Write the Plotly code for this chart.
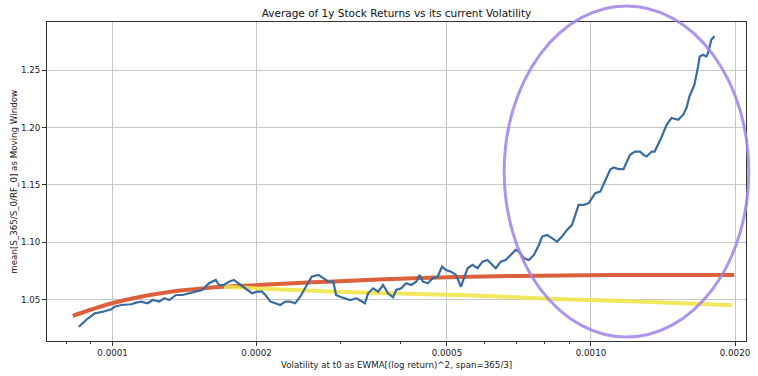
import plotly.graph_objects as go

# ---------------- data ----------------
blue_x = [8.50e-5, 8.68e-5, 8.89e-5, 9.18e-5, 9.55e-5, 9.94e-5, 1.010e-4, 1.043e-4, 1.094e-4, 1.120e-4,
          1.147e-4, 1.184e-4, 1.213e-4, 1.252e-4, 1.283e-4, 1.314e-4, 1.357e-4, 1.400e-4, 1.446e-4, 1.504e-4,
          1.539e-4, 1.591e-4, 1.643e-4, 1.669e-4, 1.709e-4, 1.751e-4, 1.793e-4, 1.852e-4, 1.911e-4, 1.957e-4,
          2.005e-4, 2.053e-4, 2.087e-4, 2.138e-4, 2.189e-4, 2.242e-4, 2.297e-4, 2.352e-4, 2.409e-4, 2.468e-4,
          2.547e-4, 2.608e-4, 2.694e-4, 2.759e-4, 2.826e-4, 2.894e-4, 2.932e-4, 2.988e-4, 3.061e-4, 3.135e-4,
          3.235e-4, 3.314e-4, 3.368e-4, 3.422e-4, 3.505e-4, 3.590e-4, 3.676e-4, 3.765e-4, 3.857e-4, 3.918e-4,
          4.013e-4, 4.110e-4, 4.210e-4, 4.312e-4, 4.382e-4, 4.452e-4, 4.560e-4, 4.670e-4, 4.783e-4, 4.883e-4,
          4.977e-4, 5.098e-4, 5.221e-4, 5.348e-4, 5.436e-4, 5.522e-4, 5.656e-4, 5.793e-4, 5.933e-4, 6.077e-4,
          6.224e-4, 6.323e-4, 6.476e-4, 6.633e-4, 6.793e-4, 6.958e-4, 7.072e-4, 7.243e-4, 7.418e-4, 7.598e-4,
          7.782e-4, 7.906e-4, 8.097e-4, 8.293e-4, 8.494e-4, 8.700e-4, 8.910e-4, 9.126e-4, 9.272e-4, 9.424e-4,
          9.652e-4, 9.891e-4, 1.0048e-3, 1.0208e-3, 1.0455e-3, 1.0708e-3, 1.0967e-3, 1.1147e-3, 1.1417e-3, 1.1693e-3,
          1.1879e-3, 1.2069e-3, 1.2361e-3, 1.2660e-3, 1.2868e-3, 1.3073e-3, 1.3390e-3, 1.3584e-3, 1.4027e-3, 1.4388e-3,
          1.4736e-3, 1.5217e-3, 1.5585e-3, 1.5833e-3, 1.6063e-3, 1.6452e-3, 1.6746e-3, 1.6875e-3, 1.7152e-3, 1.7425e-3,
          1.7568e-3, 1.7703e-3, 1.7848e-3, 1.8132e-3]
blue_y = [1.0264, 1.0299, 1.0338, 1.0381, 1.0395, 1.0416, 1.0439, 1.0454, 1.0460, 1.0474,
          1.0483, 1.0469, 1.0497, 1.0483, 1.0512, 1.0497, 1.0541, 1.0541, 1.0556, 1.0570,
          1.0585, 1.0643, 1.0672, 1.0628, 1.0628, 1.0657, 1.0672, 1.0628, 1.0585, 1.0556,
          1.0570, 1.0570, 1.0541, 1.0483, 1.0469, 1.0454, 1.0483, 1.0483, 1.0469, 1.0526,
          1.0628, 1.0701, 1.0716, 1.0689, 1.0657, 1.0657, 1.0541, 1.0526, 1.0512, 1.0497,
          1.0512, 1.0483, 1.0469, 1.0556, 1.0599, 1.0570, 1.0628, 1.0556, 1.0521, 1.0585,
          1.0599, 1.0643, 1.0628, 1.0657, 1.0716, 1.0657, 1.0643, 1.0687, 1.0701, 1.0788,
          1.0759, 1.0744, 1.0716, 1.0613, 1.0701, 1.0774, 1.0803, 1.0774, 1.0832, 1.0846,
          1.0803, 1.0774, 1.0832, 1.0846, 1.0890, 1.0934, 1.0919, 1.0861, 1.0846, 1.0890,
          1.0977, 1.1050, 1.1065, 1.1036, 1.1006, 1.1050, 1.1108, 1.1152, 1.1239, 1.1326,
          1.1326, 1.1341, 1.1385, 1.1428, 1.1442, 1.1545, 1.1632, 1.1652, 1.1638, 1.1638,
          1.1704, 1.1763, 1.1791, 1.1791, 1.1763, 1.1748, 1.1791, 1.1791, 1.1911, 1.2024,
          1.2083, 1.2068, 1.2112, 1.2170, 1.2271, 1.2374, 1.2533, 1.2620, 1.2635, 1.2620,
          1.2650, 1.2708, 1.2766, 1.2795]

red_x = [8.26e-5, 8.96e-5, 1.0014e-4, 1.138e-4, 1.293e-4, 1.481e-4, 1.669e-4, 2.021e-4, 2.447e-4,
         2.826e-4, 3.590e-4, 5.264e-4, 7.014e-4, 8.700e-4, 1.1325e-3, 1.509e-3, 1.993e-3]
red_y = [1.0358, 1.0410, 1.0471, 1.0524, 1.0563, 1.0591, 1.0611, 1.0628, 1.0646,
         1.0657, 1.0676, 1.0698, 1.0707, 1.0711, 1.0716, 1.0716, 1.0716]

yellow_x = [1.709e-4, 2.021e-4, 2.447e-4, 2.826e-4, 3.555e-4, 5.264e-4, 6.719e-4, 8.494e-4,
            1.0847e-3, 1.509e-3, 1.974e-3]
yellow_y = [1.0613, 1.0598, 1.0582, 1.0572, 1.0558, 1.0541, 1.0524, 1.0506,
            1.0493, 1.0471, 1.0451]

x_tick_vals = [0.0001, 0.0002, 0.0005, 0.001, 0.002]
x_tick_text = ["0.0001", "0.0002", "0.0005", "0.0010", "0.0020"]
x_minor_vals = [0.00008, 0.00009, 0.0003, 0.0004, 0.0006, 0.0007, 0.0008, 0.0009]
y_tick_vals = [1.05, 1.10, 1.15, 1.20, 1.25]
y_tick_text = ["1.05", "1.10", "1.15", "1.20", "1.25"]

title_text = "Average of 1y Stock Returns vs its current Volatility"
x_title = "Volatility at t0 as EWMA[(log return)^2, span=365/3]"
y_title = "mean[S_365/S_0/RF_0] as Moving Window"

# ---------------- figure ----------------
FONT = "DejaVu Sans"
SMALL = 8.7
fig = go.Figure()
fig.add_trace(go.Scatter(x=red_x, y=red_y, mode="lines",
                         line=dict(color="rgba(218,82,44,0.92)", width=4, shape="spline"),
                         showlegend=False))
fig.add_trace(go.Scatter(x=yellow_x, y=yellow_y, mode="lines",
                         line=dict(color="rgba(240,228,66,0.85)", width=4, shape="spline"),
                         showlegend=False))
fig.add_trace(go.Scatter(x=blue_x, y=blue_y, mode="lines",
                         line=dict(color="#3a6b9f", width=2.2),
                         showlegend=False))

# hand-drawn style highlight ellipse (paper coords)
fig.add_shape(type="circle", xref="paper", yref="paper",
              x0=0.654, x1=1.004, y0=0.0125, y1=1.050,
              line=dict(color="rgba(160,130,232,0.85)", width=3), layer="above")

fig.update_layout(
    width=758, height=376,
    margin=dict(l=47, r=8, t=22, b=35),
    paper_bgcolor="white", plot_bgcolor="white",
    font=dict(family=FONT, size=SMALL, color="#222"),
    title=dict(text=title_text, x=0.5, xref="paper", y=1 - 13 / 376, yref="container",
               xanchor="center", yanchor="middle", font=dict(size=10.5, color="#111")),
)
fig.update_xaxes(type="log", range=[-4.137, -2.676],
                 tickmode="array", tickvals=x_tick_vals, ticktext=x_tick_text,
                 ticks="outside", ticklen=4, tickcolor="#333",
                 showgrid=True, gridcolor="#c8c8c8", gridwidth=1,
                 showline=True, linecolor="#333", linewidth=1, mirror=True,
                 zeroline=False,
                 minor=dict(tickvals=x_minor_vals, ticks="outside", ticklen=2, tickcolor="#333",
                            showgrid=False),
                 tickfont=dict(size=SMALL, color="#222"))
fig.update_yaxes(range=[1.014, 1.292],
                 tickmode="array", tickvals=y_tick_vals, ticktext=y_tick_text,
                 ticks="outside", ticklen=4, tickcolor="#333",
                 showgrid=True, gridcolor="#c8c8c8", gridwidth=1,
                 showline=True, linecolor="#333", linewidth=1, mirror=True,
                 zeroline=False,
                 tickfont=dict(size=SMALL, color="#222"))

fig.add_annotation(text=x_title, xref="paper", yref="paper", x=0.4993, y=(341 - 365) / 319,
                   showarrow=False, xanchor="center", yanchor="middle",
                   font=dict(size=SMALL, color="#222"))
fig.add_annotation(text=y_title, xref="paper", yref="paper", x=(13 - 47) / 703, y=0.5,
                   textangle=-90, showarrow=False, xanchor="center", yanchor="middle",
                   font=dict(size=SMALL, color="#222"))

fig.write_html("out.html", config={"displayModeBar": False},
               post_script="document.body.style.margin='0px';document.body.style.overflow='hidden';")
